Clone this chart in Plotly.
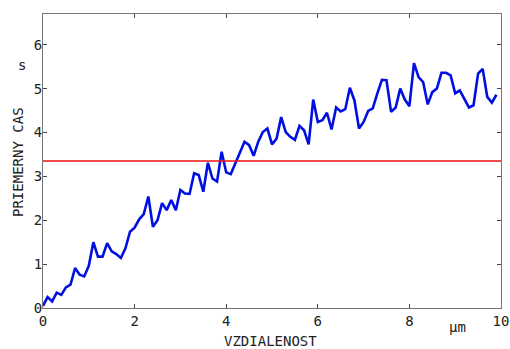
import plotly.graph_objects as go

distance = [0.0, 0.1, 0.2, 0.3, 0.4, 0.5, 0.6, 0.7, 0.8, 0.9,
            1.0, 1.1, 1.2, 1.3, 1.4, 1.5, 1.6, 1.7, 1.8, 1.9,
            2.0, 2.1, 2.2, 2.3, 2.4, 2.5, 2.6, 2.7, 2.8, 2.9,
            3.0, 3.1, 3.2, 3.3, 3.4, 3.5, 3.6, 3.7, 3.8, 3.9,
            4.0, 4.1, 4.2, 4.3, 4.4, 4.5, 4.6, 4.7, 4.8, 4.9,
            5.0, 5.1, 5.2, 5.3, 5.4, 5.5, 5.6, 5.7, 5.8, 5.9,
            6.0, 6.1, 6.2, 6.3, 6.4, 6.5, 6.6, 6.7, 6.8, 6.9,
            7.0, 7.1, 7.2, 7.3, 7.4, 7.5, 7.6, 7.7, 7.8, 7.9,
            8.0, 8.1, 8.2, 8.3, 8.4, 8.5, 8.6, 8.7, 8.8, 8.9,
            9.0, 9.1, 9.2, 9.3, 9.4, 9.5, 9.6, 9.7, 9.8, 9.9]

mean_time = [0.05, 0.25, 0.15, 0.35, 0.30, 0.47, 0.53, 0.91, 0.76, 0.72,
             0.96, 1.50, 1.17, 1.17, 1.48, 1.29, 1.23, 1.14, 1.36, 1.74,
             1.83, 2.02, 2.14, 2.54, 1.85, 2.00, 2.39, 2.23, 2.46, 2.23,
             2.69, 2.61, 2.60, 3.07, 3.03, 2.65, 3.31, 2.95, 2.88, 3.56,
             3.09, 3.05, 3.30, 3.56, 3.79, 3.71, 3.47, 3.79, 4.01, 4.09,
             3.73, 3.86, 4.35, 4.01, 3.90, 3.83, 4.15, 4.05, 3.73, 4.75,
             4.24, 4.28, 4.45, 4.07, 4.57, 4.48, 4.53, 5.02, 4.73, 4.09,
             4.24, 4.49, 4.55, 4.89, 5.20, 5.19, 4.47, 4.57, 5.00, 4.75,
             4.60, 5.58, 5.26, 5.15, 4.64, 4.92, 5.00, 5.36, 5.36, 5.30,
             4.89, 4.96, 4.77, 4.57, 4.62, 5.34, 5.45, 4.81, 4.68, 4.86]

mean_level_x = [0, 10]
mean_level_y = [3.35, 3.35]

x_ticks = [0, 2, 4, 6, 8, 10]
y_ticks = [0, 1, 2, 3, 4, 5, 6]

FONT = "DejaVu Sans Mono"
W, H = 510, 349
L, R, T, B = 43, 9, 14, 41
PW, PH = W - L - R, H - T - B


def px_ann(text, px, py, angle=0):
    return dict(text=text, xref="paper", yref="paper",
                x=(px - L) / PW, y=(H - B - py) / PH,
                xanchor="center", yanchor="middle", textangle=angle,
                showarrow=False, font=dict(family=FONT, size=14, color="#222222"))


fig = go.Figure()
fig.add_trace(go.Scatter(x=distance, y=mean_time, mode="lines",
                         line=dict(color="#0010e0", width=2.6), showlegend=False))
fig.add_trace(go.Scatter(x=mean_level_x, y=mean_level_y, mode="lines",
                         line=dict(color="#ee1111", width=1.6), showlegend=False))

axis_common = dict(showgrid=False, zeroline=False, showline=True, linecolor="#777777",
                   linewidth=1.2, mirror="allticks", ticks="inside", ticklen=4,
                   tickcolor="#444444", automargin=False, ticklabeloverflow="allow",
                   tickfont=dict(family=FONT, size=14, color="#222222"))

fig.update_xaxes(range=[0, 10], tickvals=x_ticks, ticktext=[str(v) for v in x_ticks], **axis_common)
fig.update_yaxes(range=[0, 6.7], tickvals=y_ticks, ticktext=[str(v) for v in y_ticks],
                 ticklabelstandoff=-3, **axis_common)

fig.update_layout(
    width=W, height=H,
    margin=dict(l=L, r=R, t=T, b=B, autoexpand=False),
    plot_bgcolor="white", paper_bgcolor="white",
    font=dict(family=FONT, color="#222222"),
    annotations=[
        px_ann("VZDIALENOST", 270, 341),
        px_ann("µm", 457, 327),
        px_ann("PRIEMERNY CAS", 18, 162, -90),
        px_ann("s", 22, 65),
    ],
)

fig.write_html("out.html", config={"displayModeBar": False},
               post_script="document.body.style.margin='0';document.body.style.overflow='hidden';")
